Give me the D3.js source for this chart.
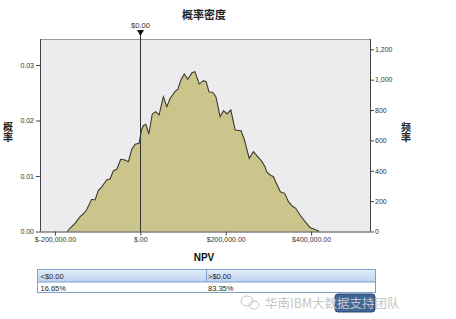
<!DOCTYPE html>
<html>
<head>
<meta charset="utf-8">
<script src="https://cdn.jsdelivr.net/npm/d3@7"></script>
<style>
  body { margin: 0; background: #fff; }
  svg { display: block; font-family: "Liberation Sans", Arial, sans-serif; }
</style>
</head>
<body>
<div id="chart"></div>
<script>
// chart data
var npv = [-171000, -165000, -153000, -141000, -134000, -126000, -114000, -106000, -98000, -91000,
  -79000, -71000, -63000, -55000, -46000, -36000, -28000, -20000, -12000, -3000,
  3000, 7000, 13000, 20000, 28000, 36000, 44000, 54000, 62000, 70000,
  81000, 88000, 95000, 103000, 111000, 121000, 128000, 138000, 148000, 154000,
  161000, 169000, 177000, 187000, 195000, 203000, 212000, 222000, 236000, 244000,
  255000, 265000, 275000, 285000, 292000, 296000, 304000, 312000, 317000, 328000,
  338000, 347000, 356000, 364000, 374000, 386000, 398000, 408000, 414000, 419000];
var density = [0, 0.00058, 0.00148, 0.00267, 0.00315, 0.00387, 0.0058, 0.00568, 0.00748, 0.00796,
  0.00928, 0.00946, 0.01095, 0.01121, 0.01301, 0.01288, 0.01258, 0.01481, 0.01571, 0.01589,
  0.01829, 0.01906, 0.01932, 0.01757, 0.02117, 0.02159, 0.02099, 0.02429, 0.02249, 0.024,
  0.02519, 0.02562, 0.0273, 0.02838, 0.02742, 0.02861, 0.02879, 0.02658, 0.02717, 0.02699,
  0.02514, 0.0251, 0.02429, 0.02068, 0.02177, 0.02117, 0.02189, 0.01829, 0.01816, 0.01649,
  0.01319, 0.01438, 0.01348, 0.01258, 0.01168, 0.01077, 0.01018, 0.00987, 0.00897, 0.00717,
  0.00688, 0.00537, 0.00459, 0.00418, 0.00297, 0.00177, 0.00068, 0.0004, 0.00022, 0];

var xTicks = [-200000, 0, 200000, 400000];
var xTickLabels = ["$-200,000.00", "$.00", "$200,000.00", "$400,000.00"];
var leftTicks = [0, 0.01, 0.02, 0.03];
var rightTicks = [0, 200, 400, 600, 800, 1000, 1200];
var markerValue = 0;
var markerLabel = "$0.00";
var tableHeader = ["<$0.00", ">$0.00"];
var tableValues = ["16.65%", "83.35%"];

//config
var config = {};
config.width  = 456;
config.height = 319;
config.left   = 40;
config.right  = 370;
config.top    = 39;
config.bottom = 231.5;

var svg = d3.select('#chart').append('svg')
    .attr('width', config.width)
    .attr('height', config.height);

//scales
var x = d3.scaleLinear()
    .domain([-235000, 538000])
    .range([config.left, config.right]);
var y = d3.scaleLinear()
    .domain([0, 0.03468])
    .range([config.bottom, config.top]);
var yFreq = d3.scaleLinear()
    .domain([0, 1268])
    .range([config.bottom, config.top]);

//plot background
svg.append('rect')
    .attr('x', config.left)
    .attr('y', config.top)
    .attr('width', config.right - config.left)
    .attr('height', config.bottom - config.top)
    .attr('fill', '#ececef');
svg.append('line')
    .attr('x1', config.left).attr('x2', config.right)
    .attr('y1', config.top + 0.5).attr('y2', config.top + 0.5)
    .attr('stroke', '#9a9a9a');

//density area
var pts = npv.map(function(d, i){ return [d, density[i]]; });
svg.append('path')
    .datum(pts)
    .attr('fill', '#cbc58b')
    .attr('d', d3.area()
        .x(function(d){ return x(d[0]); })
        .y0(y(0))
        .y1(function(d){ return y(d[1]); }));
svg.append('path')
    .datum(pts)
    .attr('fill', 'none')
    .attr('stroke', '#3a3a30')
    .attr('stroke-width', 1.1)
    .attr('d', d3.line()
        .x(function(d){ return x(d[0]); })
        .y(function(d){ return y(d[1]); }));

//axes
var fontSize = 7;
var left = svg.append('g')
    .attr('transform', 'translate(' + config.left + ',0)')
    .call(d3.axisLeft(y).tickValues(leftTicks).tickFormat(d3.format('.2f')).tickSize(4).tickPadding(2));
var right = svg.append('g')
    .attr('transform', 'translate(' + config.right + ',0)')
    .call(d3.axisRight(yFreq).tickValues(rightTicks).tickFormat(d3.format(',')).tickSize(4).tickPadding(1));
var bottom = svg.append('g')
    .attr('transform', 'translate(0,' + config.bottom + ')')
    .call(d3.axisBottom(x).tickValues(xTicks)
        .tickFormat(function(d, i){ return xTickLabels[i]; })
        .tickSize(4).tickPadding(2));
[left, right, bottom].forEach(function(g){
    g.selectAll('.domain').attr('stroke', '#444');
    g.selectAll('.tick line').attr('stroke', '#444');
    g.selectAll('text').attr('fill', '#333').style('font-size', fontSize + 'px')
        .style('font-family', '"Liberation Sans", Arial, sans-serif');
});
left.select('.domain').attr('d', 'M0.5,' + config.top + 'V' + config.bottom);
right.select('.domain').attr('d', 'M0.5,' + config.top + 'V' + config.bottom);
bottom.select('.domain').attr('d', 'M' + config.left + ',0.5H' + config.right);

//reference line at $0
var mx = Math.round(x(markerValue)) + 0.5;
svg.append('line')
    .attr('x1', mx).attr('x2', mx)
    .attr('y1', 33).attr('y2', config.bottom)
    .attr('stroke', '#333');
svg.append('path')
    .attr('d', 'M' + (mx - 3.5) + ',30L' + (mx + 3.5) + ',30L' + mx + ',36Z')
    .attr('fill', '#111');
svg.append('text')
    .attr('x', mx).attr('y', 28)
    .attr('text-anchor', 'middle')
    .attr('fill', '#333')
    .style('font-size', '7.5px')
    .text(markerLabel);

//titles
var cjk = '"Noto Sans CJK SC", sans-serif';
svg.append('text')
    .attr('x', 204).attr('y', 18.5)
    .attr('text-anchor', 'middle')
    .style('font-family', cjk).style('font-size', '11px').style('font-weight', 'bold')
    .attr('fill', '#222')
    .text('概率密度');
//vertical axis titles, one text each
[[8, '概率'], [406, '频率']].forEach(function(t){
    svg.append('text')
        .attr('x', t[0]).attr('y', 122.5)
        .style('writing-mode', 'vertical-rl')
        .style('text-orientation', 'upright')
        .style('font-family', cjk).style('font-size', '10px').style('font-weight', 'bold')
        .attr('fill', '#222').text(t[1]);
});
svg.append('text')
    .attr('x', 204).attr('y', 261)
    .attr('text-anchor', 'middle')
    .style('font-size', '10px').style('font-weight', 'bold')
    .attr('fill', '#111')
    .text('NPV');

//percentage table
var tb = { x0: 37.5, x1: 375.5, xm: 206.5, top: 269.5, mid: 282, bot: 292.5 };
var grad = svg.append('defs').append('linearGradient')
    .attr('id', 'hdr').attr('x1', 0).attr('x2', 0).attr('y1', 0).attr('y2', 1);
grad.append('stop').attr('offset', '0%').attr('stop-color', '#e3edfb');
grad.append('stop').attr('offset', '100%').attr('stop-color', '#bcd2f0');
svg.append('rect')
    .attr('x', tb.x0).attr('y', tb.top)
    .attr('width', tb.x1 - tb.x0).attr('height', tb.mid - tb.top)
    .attr('fill', 'url(#hdr)');
svg.append('rect')
    .attr('x', tb.x0).attr('y', tb.top)
    .attr('width', tb.x1 - tb.x0).attr('height', tb.bot - tb.top)
    .attr('fill', 'none').attr('stroke', '#7f9fcf');
svg.append('line')
    .attr('x1', tb.x0).attr('x2', tb.x1).attr('y1', tb.mid).attr('y2', tb.mid)
    .attr('stroke', '#7f9fcf');
svg.append('line')
    .attr('x1', tb.xm).attr('x2', tb.xm).attr('y1', tb.top).attr('y2', tb.mid)
    .attr('stroke', '#7f9fcf');
[tb.x0 + 3, tb.xm + 1.5].forEach(function(cx, i){
    svg.append('text').attr('x', cx).attr('y', 279)
        .style('font-size', '7.5px').attr('fill', '#222').text(tableHeader[i]);
    svg.append('text').attr('x', cx).attr('y', 290.5)
        .style('font-size', '7.5px').attr('fill', '#222').text(tableValues[i]);
});

//watermark
svg.append('rect')
    .attr('x', 335).attr('y', 294).attr('width', 40).attr('height', 18).attr('rx', 3)
    .attr('fill', '#3f6699').attr('stroke', '#26446d');
var wm = svg.append('g').attr('fill', 'none').attr('stroke', '#c4c4c4').attr('stroke-width', 1);
wm.append('ellipse').attr('cx', 247).attr('cy', 301).attr('rx', 6).attr('ry', 5);
wm.append('ellipse').attr('cx', 254).attr('cy', 305).attr('rx', 5).attr('ry', 4);
svg.append('text')
    .attr('x', 265).attr('y', 308)
    .style('font-family', cjk).style('font-size', '12.5px')
    .attr('fill', '#c6c6c6')
    .text('华南IBM大数据支持团队');
</script>
</body>
</html>
